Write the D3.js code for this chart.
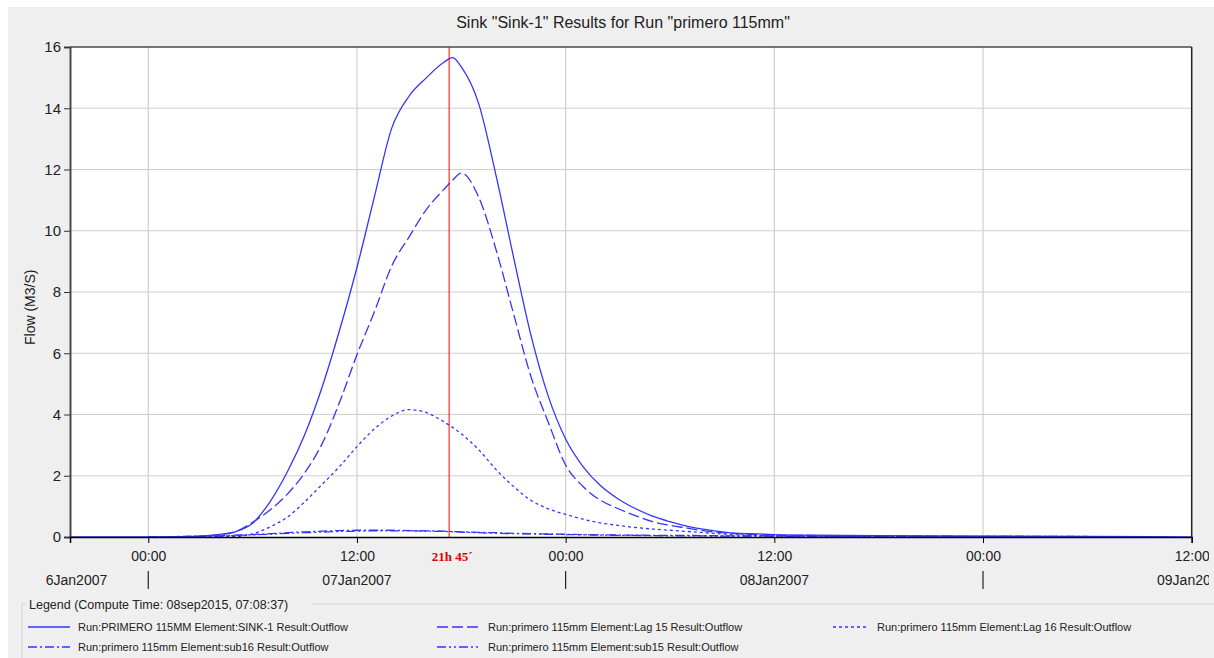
<!DOCTYPE html>
<html>
<head>
<meta charset="utf-8">
<script src="https://cdn.jsdelivr.net/npm/d3@7/dist/d3.min.js"></script>
<style>
  body { margin: 0; background: #fff; }
  text { font-family: "Liberation Sans", Arial, sans-serif; }
</style>
</head>
<body>
<svg id="chart" width="1214" height="658"></svg>
<script>
// hours after 07Jan2007 00:00
var hours = [-4.5, 0, 1, 2, 3, 4, 5, 6, 7, 8, 9, 10, 11, 12, 13, 14, 15, 16, 17, 17.5,
  18, 19, 20, 21, 22, 23, 24, 25, 26, 27, 28, 29, 30, 31, 32, 33, 34, 35, 36, 38, 40, 44, 48, 54, 60];

var sink1 = [0, 0, 0.005, 0.01, 0.03, 0.08, 0.17, 0.45, 1.15, 2.13, 3.35, 4.9, 6.75, 8.8, 11.1, 13.35, 14.4, 15.0, 15.5, 15.65,
  15.35, 14.15, 11.8, 9.15, 6.6, 4.6, 3.2, 2.3, 1.68, 1.25, 0.93, 0.68, 0.5, 0.35, 0.25, 0.17, 0.12, 0.1, 0.08, 0.06, 0.05, 0.04, 0.03, 0.02, 0];

var lag15 = [null, 0, 0.003, 0.005, 0.02, 0.07, 0.17, 0.48, 0.88, 1.4, 2.1, 3.05, 4.4, 5.95, 7.35, 8.85, 9.8, 10.7, 11.35, 11.65,
  11.88, 11.1, 9.38, 7.3, 5.25, 3.75, 2.35, 1.65, 1.2, 0.93, 0.7, 0.5, 0.38, 0.29, 0.2, 0.14, 0.1, 0.08, 0.06, 0.05, 0.04, 0.03, 0.02, 0.01, null];

var lag16 = [null, 0, 0, 0.002, 0.005, 0.01, 0.02, 0.1, 0.33, 0.65, 1.15, 1.72, 2.3, 2.95, 3.53, 3.95, 4.16, 4.06, 3.76, 3.58,
  3.37, 2.85, 2.2, 1.65, 1.2, 0.92, 0.74, 0.58, 0.46, 0.38, 0.31, 0.26, 0.22, 0.18, 0.14, 0.1, 0.07, 0.05, 0.04, 0.03, 0.02, 0.015, 0.01, 0.01, null];

var sub16 = [null, 0, 0.01, 0.02, 0.03, 0.04, 0.06, 0.08, 0.11, 0.14, 0.17, 0.19, 0.21, 0.22, 0.22, 0.22, 0.21, 0.2, 0.19, 0.18,
  0.17, 0.15, 0.14, 0.12, 0.11, 0.1, 0.09, 0.08, 0.07, 0.065, 0.06, 0.055, 0.05, 0.05, 0.045, 0.04, 0.04, 0.035, 0.035, 0.03, 0.03, 0.025, 0.02, 0.02, null];

var sub15 = [null, 0, 0.005, 0.01, 0.02, 0.03, 0.05, 0.07, 0.09, 0.12, 0.14, 0.16, 0.18, 0.19, 0.2, 0.2, 0.2, 0.19, 0.18, 0.17,
  0.16, 0.14, 0.12, 0.11, 0.1, 0.09, 0.08, 0.07, 0.06, 0.055, 0.05, 0.045, 0.04, 0.04, 0.035, 0.03, 0.03, 0.03, 0.025, 0.025, 0.02, 0.02, 0.015, 0.015, null];

var seriesNames = [
  "Run:PRIMERO 115MM Element:SINK-1 Result:Outflow",
  "Run:primero 115mm Element:Lag 15 Result:Outflow",
  "Run:primero 115mm Element:Lag 16 Result:Outflow",
  "Run:primero 115mm Element:sub16 Result:Outflow",
  "Run:primero 115mm Element:sub15 Result:Outflow"
];
var dateLabels = ["6Jan2007", "07Jan2007", "08Jan2007", "09Jan2007"];
var yTicks = [0, 2, 4, 6, 8, 10, 12, 14, 16];
var markerHours = 17.3;
var markerLabel = "21h 45\u00b4";
var titleText = 'Sink "Sink-1" Results for Run "primero 115mm"';
var legendTitle = "Legend (Compute Time: 08sep2015, 07:08:37)";

var base = new Date(2007, 0, 7, 0, 0);
function toDate(h) { return new Date(base.getTime() + h * 3600000); }

var svg = d3.select("#chart");
var margin = {left: 70, right: 1191.7, top: 47, bottom: 537};
var lineColor = "#3535ff";

var x = d3.scaleTime()
    .domain([toDate(-4.5), toDate(60)])
    .range([margin.left, margin.right]);
var y = d3.scaleLinear().domain([0, 16]).range([margin.bottom, margin.top]);

// background panels
svg.append("rect").attr("x", 8).attr("y", 7).attr("width", 1206).attr("height", 651).attr("fill", "#efefef");
svg.append("rect").attr("x", margin.left).attr("y", margin.top)
    .attr("width", margin.right - margin.left).attr("height", margin.bottom - margin.top)
    .attr("fill", "#fff");

svg.append("text")
    .attr("x", 623).attr("y", 28)
    .attr("text-anchor", "middle")
    .attr("font-size", 16)
    .attr("fill", "#222")
    .text(titleText);

// grid
var gridTimes = d3.range(0, 60, 12).map(toDate);
svg.append("g").selectAll("line").data(gridTimes).enter().append("line")
    .attr("x1", function(d) { return x(d); }).attr("x2", function(d) { return x(d); })
    .attr("y1", margin.top).attr("y2", margin.bottom)
    .attr("stroke", "#cfcfcf").attr("stroke-width", 1.2);
svg.append("g").selectAll("line").data(yTicks.slice(1, -1)).enter().append("line")
    .attr("x1", margin.left).attr("x2", margin.right)
    .attr("y1", function(d) { return y(d); }).attr("y2", function(d) { return y(d); })
    .attr("stroke", "#cfcfcf").attr("stroke-width", 1.2);

svg.append("defs").append("clipPath").attr("id", "plotclip")
  .append("rect").attr("x", margin.left).attr("y", margin.top - 2)
    .attr("width", margin.right - margin.left).attr("height", margin.bottom - margin.top + 2);
svg.select("defs").append("clipPath").attr("id", "edgeclip")
  .append("rect").attr("x", 0).attr("y", 0).attr("width", 1209).attr("height", 658);

// frame
svg.append("line").attr("x1", margin.left).attr("x2", margin.right)
    .attr("y1", margin.top).attr("y2", margin.top).attr("stroke", "#4a4a4a").attr("stroke-width", 1.5);
svg.append("line").attr("x1", margin.right).attr("x2", margin.right)
    .attr("y1", margin.top).attr("y2", margin.bottom).attr("stroke", "#222").attr("stroke-width", 1.5);

// series
var series = [
  {values: sink1, dash: null},
  {values: lag15, dash: "11,4"},
  {values: lag16, dash: "3,3"},
  {values: sub16, dash: "9,3,2,3"},
  {values: sub15, dash: "9,3,2,3,2,3"}
];
var line = d3.line()
    .defined(function(d) { return d[1] != null; })
    .x(function(d) { return x(toDate(d[0])); })
    .y(function(d) { return y(d[1]); })
    .curve(d3.curveMonotoneX);

var gLines = svg.append("g").attr("clip-path", "url(#plotclip)");
series.slice().reverse().forEach(function(s) {
  var pts = hours.map(function(h, i) { return [h, s.values[i]]; });
  gLines.append("path")
      .datum(pts)
      .attr("fill", "none")
      .attr("stroke", lineColor)
      .attr("stroke-width", 1.3)
      .attr("stroke-dasharray", s.dash)
      .attr("d", line);
});

// marker
var mx = x(toDate(markerHours));
svg.append("line").attr("x1", mx).attr("x2", mx)
    .attr("y1", margin.top).attr("y2", margin.bottom)
    .attr("stroke", "#ff0000").attr("stroke-width", 1);

// y axis
var yAxis = d3.axisLeft(y).tickValues(yTicks).tickSize(6).tickPadding(3).tickFormat(d3.format("d"));
var gy = svg.append("g").attr("transform", "translate(" + margin.left + ",0)").call(yAxis);
gy.select(".domain").attr("stroke", "#4a4a4a").attr("stroke-width", 2);
gy.selectAll(".tick line").attr("stroke", "#333");
gy.selectAll(".tick text").attr("font-size", 15).attr("fill", "#222")
    .style("font-family", "Liberation Sans, Arial, sans-serif");

svg.append("text")
    .attr("transform", "translate(35," + y(7.5) + ") rotate(-90)")
    .attr("text-anchor", "middle")
    .attr("font-size", 14)
    .attr("fill", "#222")
    .text("Flow (M3/S)");

// x axis
var xTicks = d3.range(0, 61, 12).map(toDate);
var xAxis = d3.axisBottom(x).tickValues(xTicks).tickSize(6).tickPadding(8).tickFormat(d3.timeFormat("%H:%M"));
var gx = svg.append("g").attr("clip-path", "url(#edgeclip)")
  .append("g").attr("transform", "translate(0," + margin.bottom + ")").call(xAxis);
gx.select(".domain").attr("stroke", "#000").attr("stroke-width", 1.5);
gx.selectAll(".tick line").attr("stroke", "#000");
gx.selectAll(".tick text").attr("font-size", 14).attr("fill", "#222")
    .style("font-family", "Liberation Sans, Arial, sans-serif");

svg.append("text")
    .attr("x", mx + 3).attr("y", 561)
    .attr("text-anchor", "middle")
    .attr("font-size", 13)
    .attr("font-weight", "bold")
    .attr("fill", "#e00000")
    .style("font-family", "Liberation Serif, serif")
    .text(markerLabel);

// date row
var gd = svg.append("g").attr("clip-path", "url(#edgeclip)");
dateLabels.forEach(function(lbl, i) {
  var noon = x(toDate(-12 + i * 24));
  var t = gd.append("text").attr("y", 585).attr("font-size", 14).attr("fill", "#222").text(lbl);
  if (noon < margin.left) {
    t.attr("x", x(toDate(i * 24)) - 41).attr("text-anchor", "end");
  } else {
    t.attr("x", noon).attr("text-anchor", "middle");
  }
});
gd.selectAll("line").data(d3.range(0, 60, 24).map(toDate)).enter().append("line")
    .attr("x1", function(d) { return x(d); }).attr("x2", function(d) { return x(d); })
    .attr("y1", 571).attr("y2", 589)
    .attr("stroke", "#222").attr("stroke-width", 1.2);

// legend
var legend = svg.append("g");
legend.append("path")
    .attr("d", "M22,658 V604 H26 M312,604 H1214")
    .attr("fill", "none").attr("stroke", "#ccd5de").attr("stroke-width", 1);
legend.append("text")
    .attr("x", 29).attr("y", 609)
    .attr("font-size", 12.5).attr("fill", "#222")
    .text(legendTitle);

var legendPos = [[28, 627], [437, 627], [833, 627], [28, 647], [437, 647]];
var legendLen = [42, 43, 36, 42, 43];
series.forEach(function(s, i) {
  var p = legendPos[i];
  legend.append("line")
      .attr("x1", p[0]).attr("x2", p[0] + legendLen[i])
      .attr("y1", p[1]).attr("y2", p[1])
      .attr("stroke", lineColor).attr("stroke-width", 1.5)
      .attr("stroke-dasharray", s.dash);
  legend.append("text")
      .attr("x", p[0] + legendLen[i] + 8).attr("y", p[1] + 4)
      .attr("font-size", 11).attr("fill", "#222")
      .text(seriesNames[i]);
});
</script>
</body>
</html>
